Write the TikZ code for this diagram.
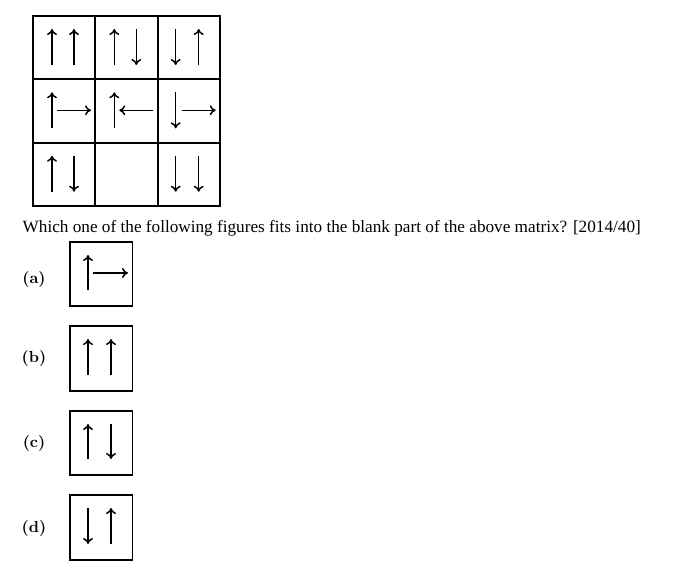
\documentclass[tikz,border=0pt]{standalone}
\usepackage{fontspec}
\setmainfont{Liberation Serif}
\newfontfamily\lmbold{lmroman10-bold.otf}
\usetikzlibrary{arrows.meta}

\begin{document}
\begin{tikzpicture}[x=1pt,y=-1pt,
  cell/.style={line width=1.8pt},
  arr/.style={line width=1.5pt,-{To[length=6pt,width=10pt]}},
  optlabel/.style={font=\lmbold\fontsize{16}{18}\selectfont},
  question/.style={font=\fontsize{17.2}{20}\selectfont,anchor=base west,inner sep=0pt}]
\useasboundingbox (0,0) rectangle (679,571);

% matrix
\draw[cell] (33,16) rectangle (220,206);
\draw[cell] (95.3,16) -- (95.3,206);
\draw[cell] (157.7,16) -- (157.7,206);
\draw[cell] (33,79.3) -- (220,79.3);
\draw[cell] (33,142.7) -- (220,142.7);

% row 1
\begin{scope}[shift={(33,16)}]
\draw[arr] (19,49) -- (19,13);
\draw[arr] (41,49) -- (41,13);
\end{scope}
\begin{scope}[shift={(95.3,16)}]
\draw[arr] (19,49) -- (19,13);
\draw[arr] (41,13) -- (41,49);
\end{scope}
\begin{scope}[shift={(157.7,16)}]
\draw[arr] (18,13) -- (18,49);
\draw[arr] (41,49) -- (41,13);
\end{scope}

% row 2
\begin{scope}[shift={(33,79.3)}]
\draw[arr] (19,49) -- (19,13);
\draw[arr] (24,31) -- (58,31);
\end{scope}
\begin{scope}[shift={(95.3,79.3)}]
\draw[arr] (19,49) -- (19,13);
\draw[arr] (58,31) -- (24,31);
\end{scope}
\begin{scope}[shift={(157.7,79.3)}]
\draw[arr] (18,13) -- (18,49);
\draw[arr] (24,31) -- (58,31);
\end{scope}

% row 3
\begin{scope}[shift={(33,142.7)}]
\draw[arr] (19,49) -- (19,13);
\draw[arr] (41,13) -- (41,49);
\end{scope}
\begin{scope}[shift={(157.7,142.7)}]
\draw[arr] (18,13) -- (18,49);
\draw[arr] (41,13) -- (41,49);
\end{scope}

\node[question] (q) at (22.5,232) {Which one of the following figures fits into the blank part of the above matrix? [2014/40]};

% options
\node[optlabel] (la) at (34,279) {(a)};
\begin{scope}[shift={(70,242)}]
\draw[cell] (0,0) rectangle (62.5,64);
\draw[arr] (18,48) -- (18,13);
\draw[arr] (23,31) -- (58,31);
\end{scope}

\node[optlabel] (lb) at (34,358) {(b)};
\begin{scope}[shift={(70,326)}]
\draw[cell] (0,0) rectangle (62.5,65);
\draw[arr] (18,49) -- (18,13);
\draw[arr] (41,49) -- (41,13);
\end{scope}

\node[optlabel] (lc) at (34,443) {(c)};
\begin{scope}[shift={(70,411)}]
\draw[cell] (0,0) rectangle (62.5,64);
\draw[arr] (18,48) -- (18,13);
\draw[arr] (41,13) -- (41,48);
\end{scope}

\node[optlabel] (ld) at (34,528) {(d)};
\begin{scope}[shift={(70,495)}]
\draw[cell] (0,0) rectangle (62.5,65);
\draw[arr] (18,13) -- (18,49);
\draw[arr] (41,49) -- (41,13);
\end{scope}
\end{tikzpicture}
\end{document}
